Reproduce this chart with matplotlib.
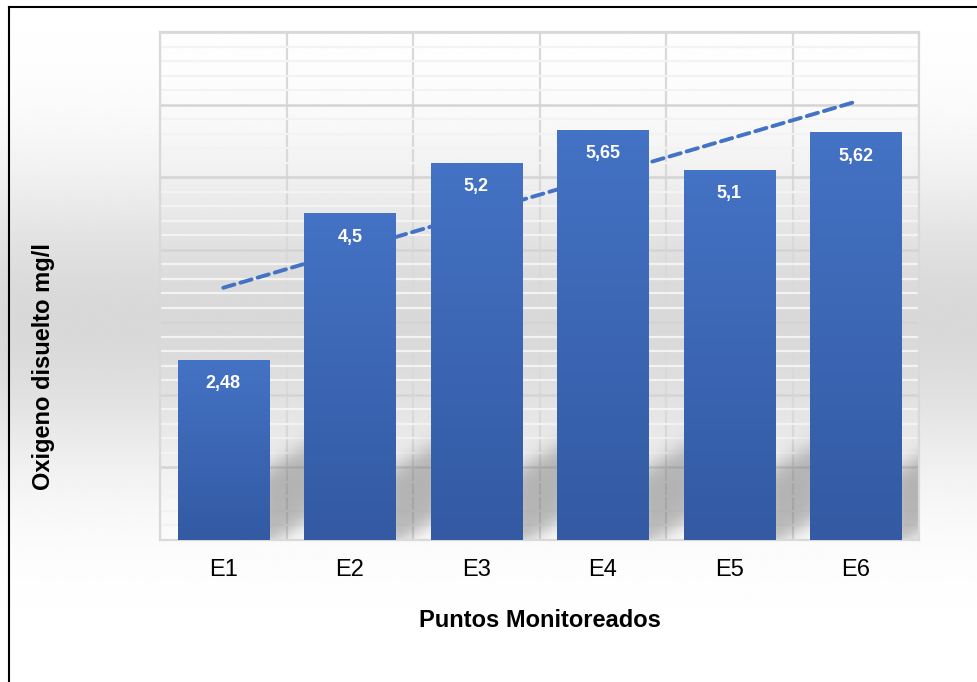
import numpy as np
import matplotlib
matplotlib.use("Agg")
import matplotlib.pyplot as plt
from matplotlib.lines import Line2D
from matplotlib.ticker import MultipleLocator
from matplotlib.colors import LinearSegmentedColormap

plt.rcParams['font.family'] = ['Liberation Sans', 'DejaVu Sans']

puntos = ['E1', 'E2', 'E3', 'E4', 'E5', 'E6']
oxigeno = [2.48, 4.5, 5.2, 5.65, 5.1, 5.62]
etiquetas = ['2,48', '4,5', '5,2', '5,65', '5,1', '5,62']

fig = plt.figure(figsize=(9.78, 6.82), dpi=100)

# figure background: vertical grey gradient
bg = fig.add_axes([0, 0, 1, 1], zorder=-10)
rows = np.linspace(0, 1, 300)
shade = 1 - 0.15 * np.exp(-((rows - 0.47) / 0.22) ** 2)
bg.imshow(np.tile(shade[:, None], (1, 2)), cmap='gray', vmin=0, vmax=1,
          aspect='auto', extent=[0, 1, 0, 1], origin='upper')
bg.axis('off')

ax = fig.add_axes([0.1636, 0.2082, 0.7761, 0.7448])
ax.set_facecolor('none')
ax.set_axisbelow(True)

x = np.arange(len(puntos))
ancho = 0.72
bars = ax.bar(x, oxigeno, width=ancho, color='#3f6cbf', zorder=3)

# gradient fill for each bar
grad = np.linspace(0, 1, 100)[:, None]
cmap = LinearSegmentedColormap.from_list('barra', ['#4472c4', '#335aa3'])
for b in bars:
    x0, w, h = b.get_x(), b.get_width(), b.get_height()
    im = ax.imshow(grad, cmap=cmap, aspect='auto', extent=[x0, x0 + w, 0, h],
                   origin='upper', zorder=3)
    im.set_clip_path(b)

# soft diagonal shadows behind the bars
gx, gy = np.meshgrid(np.linspace(-0.5, 5.5, 900), np.linspace(0, 2, 300))
sig = lambda t: 1 / (1 + np.exp(-t))
alpha = np.zeros_like(gx)
for xi in x:
    xr = xi + ancho / 2
    d = gx - xr
    a = sig((gy - (d * 1.0 - 0.05)) / 0.08) * sig(((d * 1.0 + 1.0) - gy) / 0.09)
    a *= sig((d + 0.05) / 0.02) * sig((0.40 - d) / 0.04)
    alpha = np.maximum(alpha, a)
sombra = np.zeros(gx.shape + (4,))
sombra[..., :3] = 0.45
sombra[..., 3] = alpha * 0.5
ax.imshow(sombra, extent=[-0.5, 5.5, 0, 2], origin='lower', aspect='auto',
          zorder=2, interpolation='bilinear')

for xi, v, t in zip(x, oxigeno, etiquetas):
    ax.text(xi, v - 0.33, t, ha='center', va='center', color='white',
            fontsize=13, fontweight='bold', zorder=5)

# linear trend line
coef = np.polyfit(x, oxigeno, 1)
ax.plot(x, np.polyval(coef, x), ls=(0, (3, 1.6)), color='#4472c4', lw=2.8,
        dash_capstyle='round', zorder=2.5)

ax.set_xlim(-0.5, 5.5)
ax.set_ylim(0, 7)
ax.yaxis.set_major_locator(MultipleLocator(1))
ax.yaxis.set_minor_locator(MultipleLocator(0.2))
ax.set_xticks(x)
ax.set_xticks(np.arange(-0.5, 6, 1), minor=True)
ax.set_xticklabels(puntos, fontsize=17)
ax.set_yticklabels([])
ax.tick_params(axis='both', which='both', length=0)
ax.tick_params(axis='x', pad=14)

ax.grid(axis='y', which='minor', color='#f3f3f3', lw=1.6)
ax.grid(axis='y', which='major', color='#d4d4d4', lw=1.8)
ax.grid(axis='x', which='minor', color='#d9d9d9', lw=1.6)
for s in ax.spines.values():
    s.set_color('#d9d9d9')
    s.set_linewidth(1.6)

ax.set_xlabel('Puntos Monitoreados', fontsize=17, fontweight='bold', labelpad=20)
fig.text(0.044, 0.463, 'Oxigeno disuelto mg/l', rotation=90, ha='center',
         va='center', fontsize=17, fontweight='bold')

# outer border (left and top only visible)
fig.add_artist(Line2D([9 / 978, 9 / 978], [0, 1 - 7 / 682], color='black', lw=1.5))
fig.add_artist(Line2D([9 / 978, 1], [1 - 7 / 682, 1 - 7 / 682], color='black', lw=1.5))

fig.savefig('out.png', dpi=100)
